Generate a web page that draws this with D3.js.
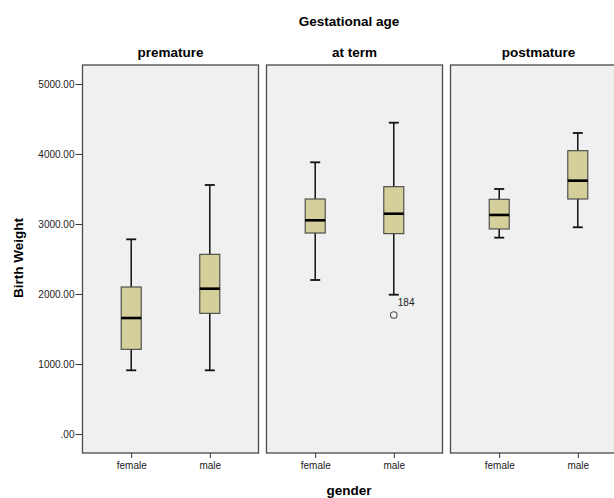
<!DOCTYPE html>
<html>
<head>
<meta charset="utf-8">
<script src="https://cdn.jsdelivr.net/npm/d3@7"></script>
<style>
  body { margin:0; background:#fff; }
  text { font-family: "Liberation Sans", Arial, sans-serif; }
</style>
</head>
<body>
<div id="chart"></div>
<script>
// data
let groups = ['premature', 'at term', 'postmature'],
    genders = ['female', 'male'],
    yTicks = [0, 1000, 2000, 3000, 4000, 5000];

// [min, q1, median, q3, max] per group, female then male
let premature = [[910, 1210, 1657, 2100, 2781], [910, 1724, 2076, 2567, 3557]],
    atTerm    = [[2200, 2871, 3053, 3357, 3881], [1990, 2862, 3147, 3533, 4447]],
    postmature = [[2805, 2929, 3129, 3353, 3500], [2953, 3357, 3619, 4047, 4300]];

let outliers = [{group: 'at term', gender: 'male', value: 1700, label: '184'}];

let stats = [premature, atTerm, postmature];

let width = 614, height = 498,
    plotTop = 65, plotBottom = 453,
    boxWidth = 20, capWidth = 10;

let svg = d3.select('#chart').append('svg')
  .attr('width', width).attr('height', height);

let panelScale = d3.scaleBand()
  .domain(groups)
  .range([82.5, 626.5])
  .paddingInner(0.0435)
  .paddingOuter(0);

let xScale = d3.scalePoint()
  .domain(genders)
  .range([0, panelScale.bandwidth()])
  .padding(0.62);

let yScale = d3.scaleLinear()
  .domain([-271, 5271])
  .range([plotBottom, plotTop]);

// titles
svg.append('text')
  .attr('x', 349).attr('y', 26)
  .attr('text-anchor', 'middle')
  .style('font-size', '13.5px').style('font-weight', 'bold')
  .text('Gestational age');

svg.append('text')
  .attr('transform', 'translate(23,' + 258 + ') rotate(-90)')
  .attr('text-anchor', 'middle')
  .style('font-size', '13.5px').style('font-weight', 'bold')
  .text('Birth Weight');

svg.append('text')
  .attr('x', 349).attr('y', 495)
  .attr('text-anchor', 'middle')
  .style('font-size', '13.5px').style('font-weight', 'bold')
  .text('gender');

// y axis
let yAxis = d3.axisLeft(yScale)
  .tickValues(yTicks)
  .tickSize(7)
  .tickFormat(d => d === 0 ? '.00' : d3.format('.2f')(d));

let yGuide = svg.append('g')
  .attr('transform', 'translate(' + panelScale('premature') + ',0)')
  .call(yAxis);
yGuide.select('.domain').remove();
yGuide.selectAll('line').attr('stroke', '#333');
yGuide.selectAll('text')
  .attr('x', -8)
  .style('font-size', '10px').style('font-family', '"Liberation Sans", Arial, sans-serif')
  .attr('fill', '#222');

groups.forEach((g, gi) => {
  let px = panelScale(g);
  let panel = svg.append('g').attr('transform', 'translate(' + px + ',0)');

  panel.append('rect')
    .attr('x', 0).attr('y', plotTop)
    .attr('width', panelScale.bandwidth()).attr('height', plotBottom - plotTop)
    .attr('fill', '#f0f0f0')
    .attr('stroke', '#4a4a4a').attr('stroke-width', 1.3);

  panel.append('text')
    .attr('x', panelScale.bandwidth() / 2).attr('y', 57)
    .attr('text-anchor', 'middle')
    .style('font-size', '13.5px').style('font-weight', 'bold')
    .text(g);

  let xAxis = d3.axisBottom(xScale).tickSize(5).tickPadding(4);
  let xGuide = panel.append('g')
    .attr('transform', 'translate(0,' + plotBottom + ')')
    .call(xAxis);
  xGuide.select('.domain').remove();
  xGuide.selectAll('line').attr('stroke', '#333');
  xGuide.selectAll('text')
    .style('font-size', '10px').style('font-family', '"Liberation Sans", Arial, sans-serif')
    .attr('fill', '#222');

  let boxes = panel.selectAll('g.box')
    .data(stats[gi].map((s, i) => ({gender: genders[i], s: s})))
    .enter().append('g')
    .attr('class', 'box')
    .attr('transform', d => 'translate(' + xScale(d.gender) + ',0)');

  // whiskers
  boxes.append('line')
    .attr('x1', 0).attr('x2', 0)
    .attr('y1', d => yScale(d.s[0])).attr('y2', d => yScale(d.s[4]))
    .attr('stroke', '#111').attr('stroke-width', 1.5);
  boxes.selectAll('line.cap')
    .data(d => [d.s[0], d.s[4]])
    .enter().append('line')
    .attr('class', 'cap')
    .attr('x1', -capWidth / 2).attr('x2', capWidth / 2)
    .attr('y1', d => yScale(d)).attr('y2', d => yScale(d))
    .attr('stroke', '#111').attr('stroke-width', 1.8);

  boxes.append('rect')
    .attr('x', -boxWidth / 2)
    .attr('y', d => yScale(d.s[3]))
    .attr('width', boxWidth)
    .attr('height', d => yScale(d.s[1]) - yScale(d.s[3]))
    .attr('fill', '#d4cf9b')
    .attr('stroke', '#444').attr('stroke-width', 1.1);

  boxes.append('line')
    .attr('x1', -boxWidth / 2).attr('x2', boxWidth / 2)
    .attr('y1', d => yScale(d.s[2])).attr('y2', d => yScale(d.s[2]))
    .attr('stroke', '#000').attr('stroke-width', 2.6);

  outliers.filter(o => o.group === g).forEach(o => {
    panel.append('circle')
      .attr('cx', xScale(o.gender)).attr('cy', yScale(o.value))
      .attr('r', 3.3)
      .attr('fill', 'none').attr('stroke', '#555').attr('stroke-width', 1.1);
    panel.append('text')
      .attr('x', xScale(o.gender) + 4).attr('y', yScale(o.value) - 9)
      .style('font-size', '10px')
      .attr('fill', '#222')
      .text(o.label);
  });
});
</script>
</body>
</html>
